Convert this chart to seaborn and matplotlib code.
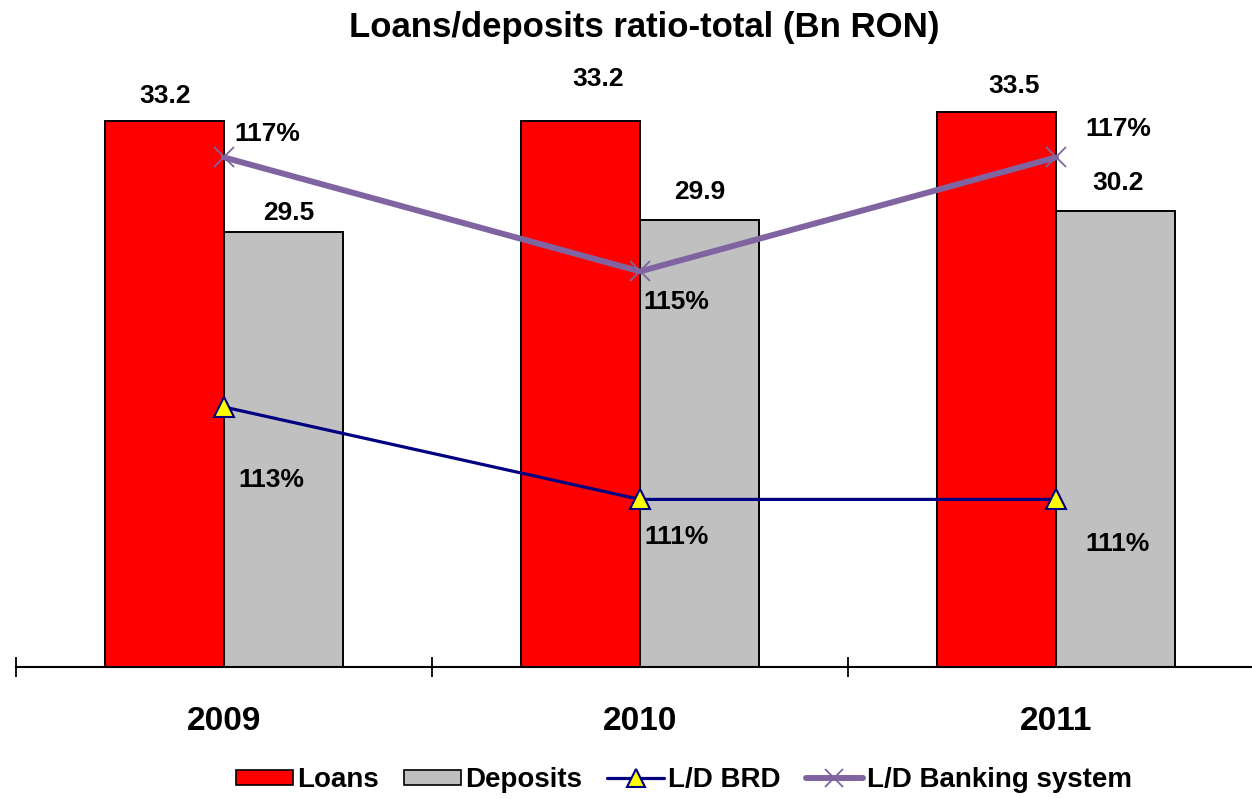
import matplotlib
matplotlib.use("Agg")
import matplotlib.pyplot as plt
import pandas as pd
import seaborn as sns
from matplotlib.patches import Patch
from matplotlib.lines import Line2D

# Data (Bn RON and loan/deposit ratios)
years = ["2009", "2010", "2011"]
loans = [33.2, 33.2, 33.5]
deposits = [29.5, 29.9, 30.2]
ld_brd = [1.1254, 1.1100, 1.1100]
ld_system = [1.167, 1.148, 1.167]

series_names = ["Loans", "Deposits", "L/D BRD", "L/D Banking system"]
title = "Loans/deposits ratio-total (Bn RON)"

RED = "#FF0000"
GREY = "#C0C0C0"
NAVY = "#000080"
PURPLE = "#8064A2"

sns.set_theme(style="white")
plt.rcParams["font.family"] = ["Liberation Sans", "DejaVu Sans"]
plt.rcParams["font.weight"] = "bold"
plt.rcParams["text.color"] = "black"
plt.rcParams["xtick.color"] = "black"
plt.rcParams["xtick.labelcolor"] = "black"

W, H = 1252, 799
fig = plt.figure(figsize=(W / 100, H / 100), dpi=100)
ax = fig.add_axes([16 / W, (H - 667) / H, (W - 16) / W, 600 / H])

bars = pd.DataFrame({
    "year": years * 2,
    "value": loans + deposits,
    "series": [series_names[0]] * 3 + [series_names[1]] * 3,
})
sns.barplot(data=bars, x="year", y="value", hue="series", ax=ax,
            palette={series_names[0]: RED, series_names[1]: GREY},
            width=0.57, gap=0, edgecolor="black", linewidth=1.4,
            legend=False, saturation=1)

ax.set_ylim(15, 35)
ax.set_xlabel("")
ax.set_ylabel("")
ax.set_yticks([])
for side in ["left", "right", "top"]:
    ax.spines[side].set_visible(False)
ax.spines["bottom"].set_color("black")
ax.spines["bottom"].set_linewidth(1.5)

# Secondary axis for ratios
ax2 = ax.twinx()
xs = list(range(len(years)))
sns.lineplot(x=xs, y=ld_brd, ax=ax2, color=NAVY, linewidth=2.3,
             marker="^", markersize=14, markerfacecolor="#FFFF00",
             markeredgecolor=NAVY, markeredgewidth=1.5)
sns.lineplot(x=xs, y=ld_system, ax=ax2, color=PURPLE, linewidth=4.3,
             marker="x", markersize=14, markeredgecolor=PURPLE,
             markeredgewidth=1.3)
ax2.set_ylim(1.08207, 1.18207)
ax2.set_yticks([])
ax2.set_xlabel("")
ax2.set_ylabel("")
for side in ax2.spines:
    ax2.spines[side].set_visible(False)

# X axis: category labels and boundary ticks
ax.set_xlim(-0.5, -0.5 + (W - 16) / 416)
ax.set_xticks(xs)
ax.set_xticklabels(years)
ax.tick_params(axis="x", which="major", length=0, pad=28, labelsize=24,
               labelcolor="black")
ax.set_xticks([-0.5, 0.5, 1.5], minor=True)
ax.tick_params(axis="x", which="minor", bottom=True, direction="inout",
               length=14, width=1.3, color="black")
for lab in ax.get_xticklabels():
    lab.set_fontweight("bold")

lab_kw = dict(textcoords="offset pixels", ha="center", va="center",
              fontsize=19, fontweight="bold", color="black")

half = 0.57 / 4
loan_off = [(0, 25), (17, 42), (17, 26)]
dep_off = [(5, 19), (0, 28), (3, 28)]
for i in xs:
    ax.annotate(f"{loans[i]:.1f}", xy=(i - half, loans[i]),
                xytext=loan_off[i], **lab_kw)
    ax.annotate(f"{deposits[i]:.1f}", xy=(i + half, deposits[i]),
                xytext=dep_off[i], **lab_kw)

sys_off = [(43, 23), (36, -31), (62, 28)]
brd_off = [(47, -73), (37, -38), (62, -45)]
for i in xs:
    ax2.annotate(f"{ld_system[i]:.0%}", xy=(i, ld_system[i]),
                 xytext=sys_off[i], **lab_kw)
    ax2.annotate(f"{ld_brd[i]:.0%}", xy=(i, ld_brd[i]),
                 xytext=brd_off[i], **lab_kw)

fig.text(644 / W, 1 - 28 / H, title, ha="center", va="center",
         fontsize=25, fontweight="bold", color="black")

handles = [
    Patch(facecolor=RED, edgecolor="black", linewidth=1.2),
    Patch(facecolor=GREY, edgecolor="black", linewidth=1.2),
    Line2D([], [], color=NAVY, linewidth=2.3, marker="^", markersize=13,
           markerfacecolor="#FFFF00", markeredgecolor=NAVY,
           markeredgewidth=1.5),
    Line2D([], [], color=PURPLE, linewidth=4.3, marker="x", markersize=13,
           markeredgecolor=PURPLE, markeredgewidth=1.3),
]
fig.legend(handles, series_names, loc="center",
           bbox_to_anchor=(684 / W, 1 - 780 / H), ncol=4, frameon=False,
           prop={"size": 20, "weight": "bold"}, handlelength=2.05,
           handleheight=0.45, handletextpad=0.15, columnspacing=0.9,
           labelcolor="black")

fig.savefig("out.png", dpi=100)
